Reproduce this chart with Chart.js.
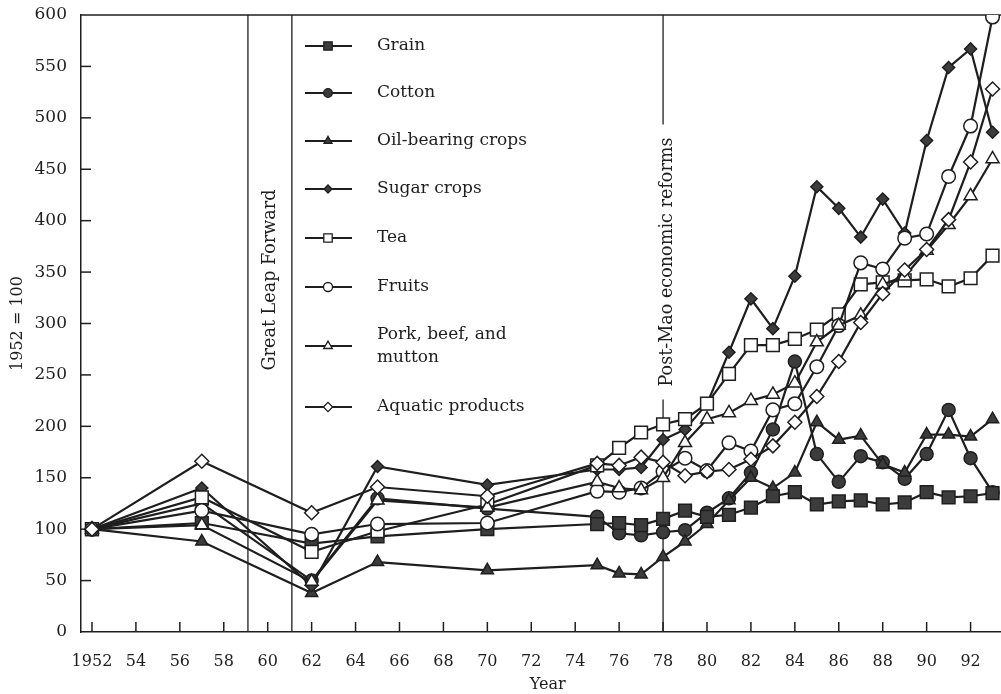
<!DOCTYPE html>
<html>
<head>
<meta charset="utf-8">
<script src="https://cdn.jsdelivr.net/npm/chart.js@4.4.1/dist/chart.umd.min.js"></script>
<style>
  html, body { margin: 0; padding: 0; background: #fff; overflow: hidden; }
  #wrap { width: 1025px; height: 694px; }
</style>
</head>
<body>
<div id="wrap"><canvas id="chart" width="1025" height="694"></canvas></div>
<script>
// index values, 1952 = 100
const years = [1952, 1957, 1962, 1965, 1970, 1975, 1976, 1977, 1978, 1979, 1980, 1981, 1982, 1983, 1984, 1985, 1986, 1987, 1988, 1989, 1990, 1991, 1992, 1993];

const grain   = [100, 106, 86, 93, 100, 105, 106, 104, 110, 118, 112, 114, 121, 132, 136, 124, 127, 128, 124, 126, 136, 131, 132, 135];
const cotton  = [100, 125, 50, 130, 120, 112, 96, 94, 97, 99, 116, 130, 155, 197, 263, 173, 146, 171, 165, 149, 173, 216, 169, 136];
const oil     = [100, 88, 38, 68, 60, 65, 57, 56, 73, 88, 105, 128, 150, 140, 155, 204, 187, 191, 163, 155, 192, 192, 190, 207];
const sugar   = [100, 140, 45, 161, 143, 158, 158, 160, 187, 197, 222, 272, 324, 295, 346, 433, 412, 384, 421, 388, 478, 549, 567, 486];
const tea     = [100, 131, 78, 98, 124, 162, 179, 194, 202, 207, 222, 251, 279, 279, 285, 294, 309, 338, 340, 342, 343, 336, 344, 366];
const fruits  = [100, 118, 95, 105, 106, 137, 136, 140, 156, 169, 157, 184, 176, 216, 222, 258, 298, 359, 353, 383, 387, 443, 492, 598];
const pork    = [100, 104, 49, 128, 121, 146, 140, 138, 150, 184, 207, 213, 225, 231, 242, 282, 298, 308, 338, 346, 371, 396, 424, 460];
const aquatic = [100, 166, 116, 141, 132, 164, 162, 170, 165, 152, 156, 158, 168, 181, 204, 229, 263, 301, 329, 352, 372, 401, 457, 528];

const seriesNames = ["Grain", "Cotton", "Oil-bearing crops", "Sugar crops", "Tea", "Fruits", "Pork, beef, and mutton", "Aquatic products"];
const seriesValues = [grain, cotton, oil, sugar, tea, fruits, pork, aquatic];

const xTickYears = [1952, 1954, 1956, 1958, 1960, 1962, 1964, 1966, 1968, 1970, 1972, 1974, 1976, 1978, 1980, 1982, 1984, 1986, 1988, 1990, 1992];
const yTickValues = [0, 50, 100, 150, 200, 250, 300, 350, 400, 450, 500, 550, 600];

const greatLeapYears = [1959.1, 1961.1];
const reformYear = 1978;

const INK = "#1e1e1e";
const DARK = "#3c3c3c";
const FONT = "'DejaVu Serif', serif";

// marker look for each series; "layer" = draw order (lower sits on top)
const markerStyles = [
  { style: "rect", radius: 9, fill: DARK, layer: 5 },
  { style: "circle", radius: 6.5, fill: DARK, layer: 7 },
  { style: "triangle", radius: 7, fill: DARK, layer: 6 },
  { style: "rectRot", radius: 6, fill: DARK, layer: 4 },
  { style: "rect", radius: 9, fill: "#fff", layer: 3 },
  { style: "circle", radius: 6.8, fill: "#fff", layer: 2 },
  { style: "triangle", radius: 7.5, fill: "#fff", layer: 1 },
  { style: "rectRot", radius: 7, fill: "#fff", layer: 0 }
];

function line(ctx, x1, y1, x2, y2) {
  ctx.beginPath();
  ctx.moveTo(x1, y1);
  ctx.lineTo(x2, y2);
  ctx.stroke();
}

const decorations = {
  id: "decorations",
  beforeDatasetsDraw(chart) {
    const { ctx, chartArea: area, scales: { x, y } } = chart;
    ctx.save();
    ctx.strokeStyle = INK;
    ctx.lineWidth = 1.5;
    line(ctx, area.left, area.top, area.right, area.top);

    // tick marks point into the plot
    yTickValues.slice(1, -1).forEach((v) => {
      const py = y.getPixelForValue(v);
      line(ctx, area.left, py, area.left + 10, py);
    });
    xTickYears.forEach((v) => {
      const px = x.getPixelForValue(v);
      line(ctx, px, area.bottom, px, area.bottom - 10);
    });

    ctx.lineWidth = 1.3;
    greatLeapYears.forEach((yr) => {
      const px = x.getPixelForValue(yr);
      line(ctx, px, area.top, px, area.bottom);
    });

    ctx.font = "17.6px " + FONT;
    ctx.fillStyle = INK;
    ctx.textAlign = "center";
    ctx.textBaseline = "middle";

    const glX = (x.getPixelForValue(greatLeapYears[0]) + x.getPixelForValue(greatLeapYears[1])) / 2;
    ctx.save();
    ctx.translate(glX + 1, 280);
    ctx.rotate(-Math.PI / 2);
    ctx.fillText("Great Leap Forward", 0, 0);
    ctx.restore();

    const rx = x.getPixelForValue(reformYear);
    const label = "Post-Mao economic reforms";
    const half = ctx.measureText(label).width / 2;
    const cy = 262;
    line(ctx, rx, area.top, rx, cy - half - 13);
    line(ctx, rx, cy + half + 13, rx, area.bottom);
    ctx.save();
    ctx.translate(rx + 4, cy);
    ctx.rotate(-Math.PI / 2);
    ctx.fillText(label, 0, 0);
    ctx.restore();
    ctx.restore();
  },
  afterDatasetsDraw(chart) {
    const { ctx } = chart;
    const rows = [46, 93, 141, 189, 238, 287, 346, 407];
    ctx.save();
    ctx.font = "17px " + FONT;
    ctx.textAlign = "left";
    ctx.textBaseline = "middle";
    rows.forEach((ry, i) => {
      const m = markerStyles[i];
      ctx.strokeStyle = INK;
      ctx.lineWidth = 2.2;
      line(ctx, 305, ry, 352, ry);
      ctx.fillStyle = m.fill;
      ctx.lineWidth = 1.3;
      Chart.helpers.drawPoint(ctx, { pointStyle: m.style, radius: m.radius * 0.66, rotation: 0, borderWidth: 1.3 }, 328, ry);
      ctx.fillStyle = INK;
      if (i === 6) {
        ctx.fillText("Pork, beef, and", 377, ry - 11);
        ctx.fillText("mutton", 377, ry + 12);
      } else {
        ctx.fillText(seriesNames[i], 377, ry);
      }
    });
    ctx.restore();
  }
};

const datasets = seriesNames.map((name, i) => ({
  label: name,
  data: years.map((yr, k) => ({ x: yr, y: seriesValues[i][k] })),
  order: markerStyles[i].layer,
  borderColor: INK,
  borderWidth: 2.2,
  pointStyle: markerStyles[i].style,
  pointRadius: markerStyles[i].radius,
  pointBackgroundColor: markerStyles[i].fill,
  pointBorderColor: INK,
  pointBorderWidth: 1.5,
  tension: 0,
  fill: false
}));

new Chart(document.getElementById("chart"), {
  type: "line",
  data: { datasets },
  options: {
    responsive: false,
    animation: false,
    layout: { padding: { top: 15, right: 7, left: 0, bottom: 0 } },
    plugins: { legend: { display: false }, tooltip: { enabled: false } },
    scales: {
      x: {
        type: "linear",
        min: 1951.5,
        max: 1994,
        afterBuildTicks: (axis) => { axis.ticks = xTickYears.map((v) => ({ value: v })); },
        afterFit: (axis) => { axis.height = 62; axis.paddingLeft = 0; axis.paddingRight = 0; },
        grid: { display: false, drawTicks: false },
        border: { display: true, color: INK, width: 1.5 },
        ticks: {
          autoSkip: false,
          maxRotation: 0,
          padding: 20,
          color: INK,
          font: { family: FONT, size: 16 },
          callback: (v) => (v === 1952 ? "1952" : String(v).slice(2))
        },
        title: { display: true, text: "Year", color: INK, font: { family: FONT, size: 16 }, padding: { top: 0, bottom: 0 } }
      },
      y: {
        min: 0,
        max: 600,
        afterBuildTicks: (axis) => { axis.ticks = yTickValues.map((v) => ({ value: v })); },
        afterFit: (axis) => { axis.width = 81; axis.paddingTop = 0; axis.paddingBottom = 0; },
        grid: { display: false, drawTicks: false },
        border: { display: true, color: INK, width: 1.5 },
        ticks: { padding: 14, color: INK, font: { family: FONT, size: 17 } },
        title: { display: true, text: "1952 = 100", color: INK, font: { family: FONT, size: 16 }, padding: { top: 8, bottom: 0 } }
      }
    }
  },
  plugins: [decorations]
});
</script>
</body>
</html>
